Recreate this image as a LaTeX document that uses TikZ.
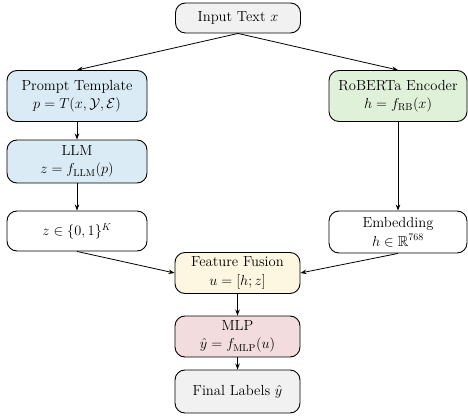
\documentclass[tikz,border=0pt]{standalone}
\usepackage{amsmath,amssymb}
\usetikzlibrary{arrows.meta}
\definecolor{cgray}{HTML}{F1F1F1}
\definecolor{cblue}{HTML}{DBEBF5}
\definecolor{cgreen}{HTML}{E0F1DA}
\definecolor{cyellow}{HTML}{FDF6E1}
\definecolor{cpink}{HTML}{F2DCDE}
\tikzset{
  box/.style={draw=black, line width=0.9pt, rounded corners=10pt, align=center,
    font=\fontsize{14.6}{18.5}\selectfont, inner sep=0pt},
  conn/.style={line width=0.8pt, -{Stealth[length=6pt,width=4.5pt]}}
}
\begin{document}
\begin{tikzpicture}[x=1pt,y=-1pt]
\useasboundingbox (0,0) rectangle (468,419);
\node[box, fill=cgray, minimum width=125pt, minimum height=30pt] (inp) at (238,18) {Input Text $x$};
\node[box, fill=cblue, minimum width=140pt, minimum height=51pt] (prompt) at (77,96) {Prompt Template\\$p=T(x,\mathcal{Y},\mathcal{E})$};
\node[box, fill=cgreen, minimum width=138pt, minimum height=51pt] (rob) at (398,96) {RoBERTa Encoder\\$h=f_{\mathrm{RB}}(x)$};
\node[box, fill=cblue, minimum width=140pt, minimum height=43pt] (llm) at (77,161.5) {LLM\\$z=f_{\mathrm{LLM}}(p)$};
\node[box, fill=white, minimum width=140pt, minimum height=40pt] (zb) at (77,231) {$z\in\{0,1\}^K$};
\node[box, fill=white, minimum width=138pt, minimum height=42pt] (emb) at (398,232) {Embedding\\$h\in\mathbb{R}^{768}$};
\node[box, fill=cyellow, minimum width=125pt, minimum height=41pt] (fus) at (237.5,273) {Feature Fusion\\$u=[h;z]$};
\node[box, fill=cpink, minimum width=125pt, minimum height=41pt] (mlp) at (237.5,336.5) {MLP\\$\hat{y}=f_{\mathrm{MLP}}(u)$};
\node[box, fill=cgray, minimum width=125pt, minimum height=43pt] (fin) at (237.5,391.5) {Final Labels $\hat{y}$};
\draw[conn] (inp.south) -- (prompt.north);
\draw[conn] (inp.south) -- (rob.north);
\draw[conn] (prompt) -- (llm);
\draw[conn] (llm) -- (zb);
\draw[conn] (rob) -- (emb);
\draw[conn] (zb.south) -- (fus.west);
\draw[conn] (emb.south) -- (fus.east);
\draw[conn] (fus) -- (mlp);
\draw[conn] (mlp) -- (fin);
\end{tikzpicture}
\end{document}
